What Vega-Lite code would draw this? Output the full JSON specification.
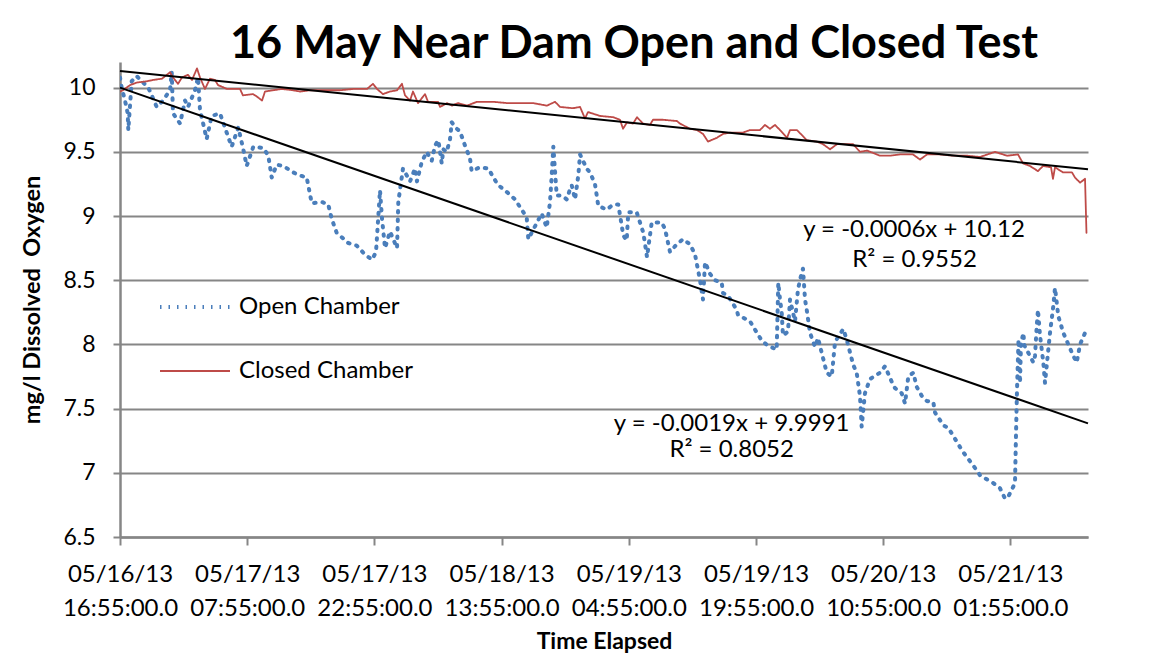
{
  "$schema": "https://vega.github.io/schema/vega-lite/v6.json",
  "width": 968,
  "height": 475,
  "autosize": "none",
  "padding": {"left": 120, "top": 62, "right": 70, "bottom": 129},
  "background": "white",
  "config": {
    "view": {"stroke": null},
    "font": "Lato",
    "axis": {"labelColor": "black", "titleColor": "black", "domainColor": "#868686", "tickColor": "#868686", "gridColor": "#868686"}
  },
  "title": {"text": "16 May Near Dam Open and Closed Test", "font": "Lato", "fontSize": 45, "fontWeight": "bold", "color": "black", "anchor": "middle", "dx": 30, "offset": -5},
  "datasets": {
    "series": [
      {"s":"Open Chamber","h":0,"v":10.08},{"s":"Open Chamber","h":0.2,"v":10.0},{"s":"Open Chamber","h":0.59,"v":9.9},{"s":"Open Chamber","h":0.91,"v":9.8},{"s":"Open Chamber","h":0.98,"v":9.67},{"s":"Open Chamber","h":1.38,"v":10.05},{"s":"Open Chamber","h":1.97,"v":10.09},{"s":"Open Chamber","h":3.34,"v":10.0},{"s":"Open Chamber","h":4.33,"v":9.85},{"s":"Open Chamber","h":5.07,"v":9.9},{"s":"Open Chamber","h":5.9,"v":9.98},{"s":"Open Chamber","h":6.1,"v":10.12},{"s":"Open Chamber","h":6.25,"v":9.8},{"s":"Open Chamber","h":7.08,"v":9.72},{"s":"Open Chamber","h":7.67,"v":9.9},{"s":"Open Chamber","h":8.02,"v":9.85},{"s":"Open Chamber","h":8.84,"v":9.98},{"s":"Open Chamber","h":9.2,"v":10.08},{"s":"Open Chamber","h":9.43,"v":9.83},{"s":"Open Chamber","h":10.22,"v":9.6},{"s":"Open Chamber","h":10.81,"v":9.78},{"s":"Open Chamber","h":11.79,"v":9.8},{"s":"Open Chamber","h":12.58,"v":9.65},{"s":"Open Chamber","h":13.17,"v":9.54},{"s":"Open Chamber","h":13.95,"v":9.69},{"s":"Open Chamber","h":14.54,"v":9.52},{"s":"Open Chamber","h":14.94,"v":9.39},{"s":"Open Chamber","h":15.72,"v":9.54},{"s":"Open Chamber","h":16.9,"v":9.53},{"s":"Open Chamber","h":17.49,"v":9.47},{"s":"Open Chamber","h":17.89,"v":9.3},{"s":"Open Chamber","h":18.48,"v":9.4},{"s":"Open Chamber","h":19.26,"v":9.39},{"s":"Open Chamber","h":20.44,"v":9.34},{"s":"Open Chamber","h":21.03,"v":9.32},{"s":"Open Chamber","h":22.02,"v":9.3},{"s":"Open Chamber","h":22.61,"v":9.1},{"s":"Open Chamber","h":23.79,"v":9.11},{"s":"Open Chamber","h":24.56,"v":9.09},{"s":"Open Chamber","h":24.96,"v":8.98},{"s":"Open Chamber","h":25.55,"v":8.87},{"s":"Open Chamber","h":26.92,"v":8.79},{"s":"Open Chamber","h":27.91,"v":8.77},{"s":"Open Chamber","h":28.89,"v":8.7},{"s":"Open Chamber","h":29.72,"v":8.66},{"s":"Open Chamber","h":30.19,"v":8.72},{"s":"Open Chamber","h":30.66,"v":9.2},{"s":"Open Chamber","h":30.9,"v":8.98},{"s":"Open Chamber","h":31.25,"v":8.75},{"s":"Open Chamber","h":31.84,"v":8.88},{"s":"Open Chamber","h":32.67,"v":8.75},{"s":"Open Chamber","h":32.82,"v":9.11},{"s":"Open Chamber","h":33.37,"v":9.37},{"s":"Open Chamber","h":34.2,"v":9.27},{"s":"Open Chamber","h":34.79,"v":9.37},{"s":"Open Chamber","h":35.02,"v":9.27},{"s":"Open Chamber","h":35.58,"v":9.42},{"s":"Open Chamber","h":36.17,"v":9.5},{"s":"Open Chamber","h":36.76,"v":9.43},{"s":"Open Chamber","h":37.15,"v":9.55},{"s":"Open Chamber","h":37.54,"v":9.59},{"s":"Open Chamber","h":37.94,"v":9.41},{"s":"Open Chamber","h":38.13,"v":9.52},{"s":"Open Chamber","h":38.53,"v":9.5},{"s":"Open Chamber","h":38.92,"v":9.6},{"s":"Open Chamber","h":39.12,"v":9.73},{"s":"Open Chamber","h":39.71,"v":9.68},{"s":"Open Chamber","h":40.09,"v":9.66},{"s":"Open Chamber","h":40.68,"v":9.55},{"s":"Open Chamber","h":41.27,"v":9.45},{"s":"Open Chamber","h":41.47,"v":9.35},{"s":"Open Chamber","h":42.45,"v":9.38},{"s":"Open Chamber","h":43.43,"v":9.37},{"s":"Open Chamber","h":44.22,"v":9.28},{"s":"Open Chamber","h":44.61,"v":9.24},{"s":"Open Chamber","h":45.4,"v":9.2},{"s":"Open Chamber","h":46.58,"v":9.13},{"s":"Open Chamber","h":47.37,"v":9.05},{"s":"Open Chamber","h":47.96,"v":8.99},{"s":"Open Chamber","h":48.15,"v":8.82},{"s":"Open Chamber","h":48.94,"v":8.92},{"s":"Open Chamber","h":49.73,"v":9.02},{"s":"Open Chamber","h":50.32,"v":8.91},{"s":"Open Chamber","h":50.71,"v":9.11},{"s":"Open Chamber","h":50.91,"v":9.32},{"s":"Open Chamber","h":51.1,"v":9.54},{"s":"Open Chamber","h":51.5,"v":9.16},{"s":"Open Chamber","h":52.09,"v":9.16},{"s":"Open Chamber","h":52.68,"v":9.13},{"s":"Open Chamber","h":53.07,"v":9.21},{"s":"Open Chamber","h":53.27,"v":9.24},{"s":"Open Chamber","h":53.66,"v":9.13},{"s":"Open Chamber","h":54.05,"v":9.32},{"s":"Open Chamber","h":54.25,"v":9.48},{"s":"Open Chamber","h":55.03,"v":9.37},{"s":"Open Chamber","h":55.42,"v":9.34},{"s":"Open Chamber","h":56.01,"v":9.25},{"s":"Open Chamber","h":56.4,"v":9.08},{"s":"Open Chamber","h":57.39,"v":9.05},{"s":"Open Chamber","h":58.17,"v":9.09},{"s":"Open Chamber","h":58.76,"v":9.09},{"s":"Open Chamber","h":59.35,"v":8.85},{"s":"Open Chamber","h":59.75,"v":8.81},{"s":"Open Chamber","h":59.94,"v":9.03},{"s":"Open Chamber","h":60.93,"v":9.03},{"s":"Open Chamber","h":61.71,"v":8.87},{"s":"Open Chamber","h":62.15,"v":8.68},{"s":"Open Chamber","h":62.7,"v":8.95},{"s":"Open Chamber","h":63.88,"v":8.95},{"s":"Open Chamber","h":64.27,"v":8.9},{"s":"Open Chamber","h":64.86,"v":8.72},{"s":"Open Chamber","h":65.65,"v":8.78},{"s":"Open Chamber","h":66.39,"v":8.82},{"s":"Open Chamber","h":67.22,"v":8.78},{"s":"Open Chamber","h":67.81,"v":8.7},{"s":"Open Chamber","h":68.4,"v":8.5},{"s":"Open Chamber","h":68.75,"v":8.35},{"s":"Open Chamber","h":68.99,"v":8.64},{"s":"Open Chamber","h":69.58,"v":8.55},{"s":"Open Chamber","h":70.17,"v":8.5},{"s":"Open Chamber","h":70.96,"v":8.48},{"s":"Open Chamber","h":71.11,"v":8.4},{"s":"Open Chamber","h":71.7,"v":8.38},{"s":"Open Chamber","h":72.72,"v":8.27},{"s":"Open Chamber","h":72.88,"v":8.23},{"s":"Open Chamber","h":74.29,"v":8.18},{"s":"Open Chamber","h":74.65,"v":8.14},{"s":"Open Chamber","h":75.67,"v":8.03},{"s":"Open Chamber","h":76.42,"v":7.99},{"s":"Open Chamber","h":77.44,"v":7.96},{"s":"Open Chamber","h":77.63,"v":8.48},{"s":"Open Chamber","h":77.83,"v":8.35},{"s":"Open Chamber","h":78.03,"v":8.25},{"s":"Open Chamber","h":78.18,"v":8.07},{"s":"Open Chamber","h":78.77,"v":8.1},{"s":"Open Chamber","h":79.01,"v":8.35},{"s":"Open Chamber","h":79.6,"v":8.18},{"s":"Open Chamber","h":79.95,"v":8.43},{"s":"Open Chamber","h":80.39,"v":8.56},{"s":"Open Chamber","h":80.54,"v":8.59},{"s":"Open Chamber","h":80.78,"v":8.35},{"s":"Open Chamber","h":80.98,"v":8.27},{"s":"Open Chamber","h":81.37,"v":8.09},{"s":"Open Chamber","h":81.96,"v":7.98},{"s":"Open Chamber","h":82.31,"v":8.05},{"s":"Open Chamber","h":83.34,"v":7.78},{"s":"Open Chamber","h":83.93,"v":7.75},{"s":"Open Chamber","h":84.32,"v":8.02},{"s":"Open Chamber","h":85.29,"v":8.12},{"s":"Open Chamber","h":85.69,"v":8.04},{"s":"Open Chamber","h":86.47,"v":7.84},{"s":"Open Chamber","h":86.87,"v":7.78},{"s":"Open Chamber","h":87.26,"v":7.6},{"s":"Open Chamber","h":87.46,"v":7.36},{"s":"Open Chamber","h":87.85,"v":7.62},{"s":"Open Chamber","h":88.44,"v":7.73},{"s":"Open Chamber","h":89.62,"v":7.78},{"s":"Open Chamber","h":90.21,"v":7.83},{"s":"Open Chamber","h":91.0,"v":7.71},{"s":"Open Chamber","h":91.39,"v":7.66},{"s":"Open Chamber","h":92.18,"v":7.62},{"s":"Open Chamber","h":92.57,"v":7.54},{"s":"Open Chamber","h":92.96,"v":7.75},{"s":"Open Chamber","h":93.55,"v":7.78},{"s":"Open Chamber","h":93.95,"v":7.67},{"s":"Open Chamber","h":94.54,"v":7.6},{"s":"Open Chamber","h":95.13,"v":7.56},{"s":"Open Chamber","h":95.91,"v":7.55},{"s":"Open Chamber","h":96.11,"v":7.47},{"s":"Open Chamber","h":97.09,"v":7.37},{"s":"Open Chamber","h":97.68,"v":7.35},{"s":"Open Chamber","h":99.06,"v":7.2},{"s":"Open Chamber","h":99.45,"v":7.16},{"s":"Open Chamber","h":101.03,"v":7.02},{"s":"Open Chamber","h":101.42,"v":6.98},{"s":"Open Chamber","h":102.98,"v":6.92},{"s":"Open Chamber","h":103.77,"v":6.88},{"s":"Open Chamber","h":104.36,"v":6.8},{"s":"Open Chamber","h":104.72,"v":6.81},{"s":"Open Chamber","h":105.54,"v":6.92},{"s":"Open Chamber","h":105.66,"v":7.3},{"s":"Open Chamber","h":105.78,"v":7.65},{"s":"Open Chamber","h":105.96,"v":8.04},{"s":"Open Chamber","h":106.13,"v":7.7},{"s":"Open Chamber","h":106.25,"v":8.0},{"s":"Open Chamber","h":106.52,"v":8.09},{"s":"Open Chamber","h":106.66,"v":7.99},{"s":"Open Chamber","h":107.31,"v":7.91},{"s":"Open Chamber","h":107.7,"v":7.86},{"s":"Open Chamber","h":107.9,"v":7.91},{"s":"Open Chamber","h":108.1,"v":8.14},{"s":"Open Chamber","h":108.25,"v":8.27},{"s":"Open Chamber","h":108.49,"v":8.07},{"s":"Open Chamber","h":108.88,"v":7.86},{"s":"Open Chamber","h":109.08,"v":7.7},{"s":"Open Chamber","h":109.47,"v":7.96},{"s":"Open Chamber","h":109.67,"v":8.09},{"s":"Open Chamber","h":110.06,"v":8.3},{"s":"Open Chamber","h":110.26,"v":8.44},{"s":"Open Chamber","h":110.65,"v":8.22},{"s":"Open Chamber","h":111.24,"v":8.09},{"s":"Open Chamber","h":112.42,"v":7.91},{"s":"Open Chamber","h":112.82,"v":7.86},{"s":"Open Chamber","h":113.21,"v":8.0},{"s":"Open Chamber","h":113.8,"v":8.09},{"s":"Open Chamber","h":114.15,"v":8.12},
      {"s":"Closed Chamber","h":0,"v":9.97},{"s":"Closed Chamber","h":0.35,"v":9.98},{"s":"Closed Chamber","h":1.18,"v":10.02},{"s":"Closed Chamber","h":2.0,"v":10.04},{"s":"Closed Chamber","h":3.18,"v":10.05},{"s":"Closed Chamber","h":3.89,"v":10.06},{"s":"Closed Chamber","h":4.95,"v":10.07},{"s":"Closed Chamber","h":5.9,"v":10.12},{"s":"Closed Chamber","h":6.25,"v":10.08},{"s":"Closed Chamber","h":6.84,"v":10.03},{"s":"Closed Chamber","h":7.31,"v":10.08},{"s":"Closed Chamber","h":8.02,"v":10.1},{"s":"Closed Chamber","h":8.49,"v":10.06},{"s":"Closed Chamber","h":9.08,"v":10.15},{"s":"Closed Chamber","h":9.43,"v":10.08},{"s":"Closed Chamber","h":10.02,"v":9.99},{"s":"Closed Chamber","h":10.61,"v":10.07},{"s":"Closed Chamber","h":11.2,"v":10.06},{"s":"Closed Chamber","h":11.56,"v":10.02},{"s":"Closed Chamber","h":12.62,"v":9.99},{"s":"Closed Chamber","h":14.15,"v":9.99},{"s":"Closed Chamber","h":14.5,"v":9.94},{"s":"Closed Chamber","h":15.68,"v":9.95},{"s":"Closed Chamber","h":16.16,"v":9.93},{"s":"Closed Chamber","h":16.75,"v":9.9},{"s":"Closed Chamber","h":17.1,"v":9.97},{"s":"Closed Chamber","h":18.04,"v":9.98},{"s":"Closed Chamber","h":19.1,"v":9.99},{"s":"Closed Chamber","h":20.4,"v":9.98},{"s":"Closed Chamber","h":21.23,"v":9.97},{"s":"Closed Chamber","h":22.41,"v":9.98},{"s":"Closed Chamber","h":24.41,"v":9.98},{"s":"Closed Chamber","h":25.94,"v":9.98},{"s":"Closed Chamber","h":27.48,"v":9.99},{"s":"Closed Chamber","h":29.13,"v":9.99},{"s":"Closed Chamber","h":29.83,"v":10.03},{"s":"Closed Chamber","h":30.31,"v":9.99},{"s":"Closed Chamber","h":31.01,"v":9.95},{"s":"Closed Chamber","h":31.84,"v":9.97},{"s":"Closed Chamber","h":32.67,"v":9.98},{"s":"Closed Chamber","h":33.25,"v":10.03},{"s":"Closed Chamber","h":33.61,"v":9.94},{"s":"Closed Chamber","h":34.2,"v":9.9},{"s":"Closed Chamber","h":34.55,"v":9.97},{"s":"Closed Chamber","h":35.14,"v":9.88},{"s":"Closed Chamber","h":35.97,"v":9.95},{"s":"Closed Chamber","h":36.32,"v":9.89},{"s":"Closed Chamber","h":37.5,"v":9.89},{"s":"Closed Chamber","h":37.74,"v":9.85},{"s":"Closed Chamber","h":38.56,"v":9.88},{"s":"Closed Chamber","h":39.15,"v":9.86},{"s":"Closed Chamber","h":39.86,"v":9.88},{"s":"Closed Chamber","h":40.92,"v":9.86},{"s":"Closed Chamber","h":42.1,"v":9.89},{"s":"Closed Chamber","h":43.99,"v":9.89},{"s":"Closed Chamber","h":45.64,"v":9.88},{"s":"Closed Chamber","h":47.17,"v":9.88},{"s":"Closed Chamber","h":48.7,"v":9.88},{"s":"Closed Chamber","h":50.35,"v":9.86},{"s":"Closed Chamber","h":51.3,"v":9.89},{"s":"Closed Chamber","h":51.89,"v":9.85},{"s":"Closed Chamber","h":53.42,"v":9.84},{"s":"Closed Chamber","h":54.25,"v":9.85},{"s":"Closed Chamber","h":54.83,"v":9.76},{"s":"Closed Chamber","h":55.19,"v":9.81},{"s":"Closed Chamber","h":56.6,"v":9.78},{"s":"Closed Chamber","h":58.14,"v":9.77},{"s":"Closed Chamber","h":58.96,"v":9.75},{"s":"Closed Chamber","h":59.32,"v":9.68},{"s":"Closed Chamber","h":59.79,"v":9.73},{"s":"Closed Chamber","h":60.5,"v":9.72},{"s":"Closed Chamber","h":60.97,"v":9.77},{"s":"Closed Chamber","h":61.67,"v":9.72},{"s":"Closed Chamber","h":62.5,"v":9.71},{"s":"Closed Chamber","h":62.85,"v":9.75},{"s":"Closed Chamber","h":64.03,"v":9.75},{"s":"Closed Chamber","h":65.68,"v":9.74},{"s":"Closed Chamber","h":66.04,"v":9.72},{"s":"Closed Chamber","h":67.22,"v":9.68},{"s":"Closed Chamber","h":68.04,"v":9.67},{"s":"Closed Chamber","h":68.75,"v":9.64},{"s":"Closed Chamber","h":69.34,"v":9.58},{"s":"Closed Chamber","h":70.4,"v":9.61},{"s":"Closed Chamber","h":71.11,"v":9.64},{"s":"Closed Chamber","h":71.93,"v":9.65},{"s":"Closed Chamber","h":73.47,"v":9.65},{"s":"Closed Chamber","h":74.29,"v":9.67},{"s":"Closed Chamber","h":75.47,"v":9.67},{"s":"Closed Chamber","h":76.06,"v":9.71},{"s":"Closed Chamber","h":76.65,"v":9.68},{"s":"Closed Chamber","h":77.24,"v":9.71},{"s":"Closed Chamber","h":77.83,"v":9.67},{"s":"Closed Chamber","h":78.66,"v":9.61},{"s":"Closed Chamber","h":79.01,"v":9.67},{"s":"Closed Chamber","h":79.83,"v":9.67},{"s":"Closed Chamber","h":81.01,"v":9.59},{"s":"Closed Chamber","h":82.19,"v":9.58},{"s":"Closed Chamber","h":82.9,"v":9.56},{"s":"Closed Chamber","h":83.73,"v":9.52},{"s":"Closed Chamber","h":84.55,"v":9.56},{"s":"Closed Chamber","h":86.44,"v":9.56},{"s":"Closed Chamber","h":87.26,"v":9.5},{"s":"Closed Chamber","h":88.09,"v":9.51},{"s":"Closed Chamber","h":89.62,"v":9.47},{"s":"Closed Chamber","h":90.8,"v":9.47},{"s":"Closed Chamber","h":91.98,"v":9.48},{"s":"Closed Chamber","h":93.51,"v":9.48},{"s":"Closed Chamber","h":94.34,"v":9.44},{"s":"Closed Chamber","h":95.17,"v":9.48},{"s":"Closed Chamber","h":96.7,"v":9.48},{"s":"Closed Chamber","h":98.23,"v":9.47},{"s":"Closed Chamber","h":99.88,"v":9.47},{"s":"Closed Chamber","h":101.42,"v":9.46},{"s":"Closed Chamber","h":103.18,"v":9.5},{"s":"Closed Chamber","h":104.6,"v":9.47},{"s":"Closed Chamber","h":105.9,"v":9.48},{"s":"Closed Chamber","h":106.49,"v":9.41},{"s":"Closed Chamber","h":107.31,"v":9.39},{"s":"Closed Chamber","h":108.25,"v":9.35},{"s":"Closed Chamber","h":108.84,"v":9.39},{"s":"Closed Chamber","h":109.79,"v":9.38},{"s":"Closed Chamber","h":110.02,"v":9.29},{"s":"Closed Chamber","h":110.26,"v":9.38},{"s":"Closed Chamber","h":111.2,"v":9.34},{"s":"Closed Chamber","h":112.26,"v":9.34},{"s":"Closed Chamber","h":112.62,"v":9.3},{"s":"Closed Chamber","h":113.21,"v":9.26},{"s":"Closed Chamber","h":113.8,"v":9.29},{"s":"Closed Chamber","h":113.97,"v":8.87}
    ],
    "trend": [
      {"t":"closed","h":0,"v":10.13},{"t":"closed","h":114.15,"v":9.365},
      {"t":"open","h":0,"v":10.0},{"t":"open","h":114.15,"v":7.385}
    ],
    "notes": [
      {"h":93.63,"v":8.89,"txt":"y = -0.0006x + 10.12"},
      {"h":93.7,"v":8.66,"txt":"R² = 0.9552"},
      {"h":72.13,"v":7.384,"txt":"y = -0.0019x + 9.9991"},
      {"h":72.13,"v":7.18,"txt":"R² = 0.8052"}
    ]
  },
  "layer": [
    {
      "data": {"name": "series"},
      "mark": {"type": "line", "strokeCap": "round", "strokeJoin": "round", "clip": true},
      "encoding": {
        "x": {"field": "h", "type": "quantitative",
          "scale": {"domain": [0, 114.15], "nice": false, "zero": false},
          "axis": {"values": [0, 15, 30, 45, 60, 75, 90, 105], "grid": false, "title": "Time Elapsed",
            "titleFont": "Lato", "titleFontSize": 23, "titleFontWeight": "bold", "titlePadding": 10,
            "labelFont": "Lato", "labelFontSize": 24, "labelLineHeight": 34, "labelPadding": 17, "labelFlush": false, "labelOverlap": false,
            "labelExpr": "[utcFormat(utc(2013,4,16,16,55,0,0) + datum.value*3600000, '%m/%d/%y'), utcFormat(utc(2013,4,16,16,55,0,0) + datum.value*3600000, '%H:%M:%S') + '.0']",
            "domainWidth": 2.5, "tickWidth": 2, "tickSize": 8}},
        "y": {"field": "v", "type": "quantitative",
          "scale": {"domain": [6.5, 10.2], "nice": false, "zero": false},
          "axis": {"values": [6.5, 7, 7.5, 8, 8.5, 9, 9.5, 10], "format": "~g", "grid": true, "gridWidth": 2,
            "title": "mg/l Dissolved\u00a0 Oxygen", "titleFont": "Lato", "titleFontSize": 23.5, "titleFontWeight": "bold", "titlePadding": 18,
            "labelFont": "Lato", "labelFontSize": 23, "labelPadding": 18,
            "domainWidth": 2.5, "tickWidth": 2, "tickSize": 7}},
        "color": {"field": "s", "type": "nominal",
          "scale": {"domain": ["Open Chamber", "Closed Chamber"], "range": ["#4A7EBB", "#BE4B48"]},
          "legend": {"title": null, "orient": "none", "legendX": 38, "legendY": 208, "symbolType": "stroke", "symbolSize": 4900,
            "labelFont": "Lato", "labelFontSize": 24, "labelColor": "black", "labelOffset": 7, "labelLimit": 0, "rowPadding": 16, "padding": 0}},
        "strokeDash": {"field": "s", "type": "nominal",
          "scale": {"domain": ["Open Chamber", "Closed Chamber"], "range": [[1.5, 7], [1, 0]]},
          "legend": {"title": null, "orient": "none", "legendX": 38, "legendY": 208, "symbolType": "stroke", "symbolSize": 4900,
            "labelFont": "Lato", "labelFontSize": 24, "labelColor": "black", "labelOffset": 7, "labelLimit": 0, "rowPadding": 16, "padding": 0}},
        "strokeWidth": {"field": "s", "type": "nominal",
          "scale": {"domain": ["Open Chamber", "Closed Chamber"], "range": [4, 1.8]},
          "legend": {"title": null, "orient": "none", "legendX": 38, "legendY": 208, "symbolType": "stroke", "symbolSize": 4900,
            "labelFont": "Lato", "labelFontSize": 24, "labelColor": "black", "labelOffset": 7, "labelLimit": 0, "rowPadding": 16, "padding": 0}}
      }
    },
    {
      "data": {"name": "trend"},
      "mark": {"type": "line", "color": "black", "strokeWidth": 2},
      "encoding": {
        "x": {"field": "h", "type": "quantitative"},
        "y": {"field": "v", "type": "quantitative"},
        "detail": {"field": "t", "type": "nominal"}
      }
    },
    {
      "data": {"name": "notes"},
      "mark": {"type": "text", "font": "Lato", "fontSize": 24, "color": "black", "align": "center", "baseline": "middle"},
      "encoding": {
        "x": {"field": "h", "type": "quantitative"},
        "y": {"field": "v", "type": "quantitative"},
        "text": {"field": "txt"}
      }
    }
  ]
}
